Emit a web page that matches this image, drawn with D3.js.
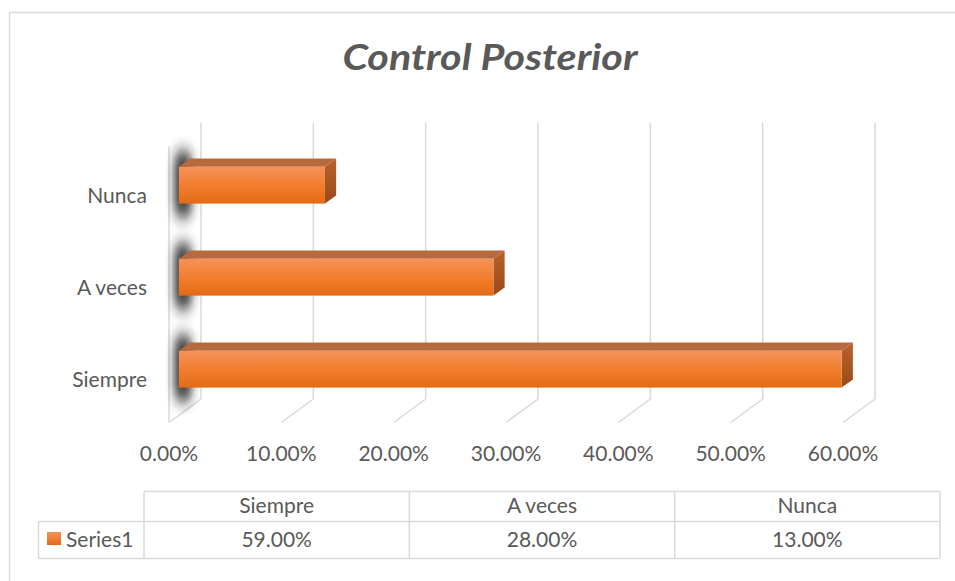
<!DOCTYPE html>
<html>
<head>
<meta charset="utf-8">
<script src="https://cdn.jsdelivr.net/npm/d3@7/dist/d3.min.js"></script>
<style>
  html, body { margin: 0; padding: 0; background: #fff; }
  svg { display: block; font-family: Lato, "Open Sans", sans-serif; }
</style>
</head>
<body>
<svg id="chart" width="955" height="581"></svg>
<script>
const title = "Control Posterior";
const seriesName = "Series1";
const categories = ["Siempre", "A veces", "Nunca"];
const values = [0.59, 0.28, 0.13];
const tickValues = [0, 0.1, 0.2, 0.3, 0.4, 0.5, 0.6];

const svg = d3.select("#chart");
const textColor = "#595959";
const gridColor = "#d9d9d9";

// defs
const defs = svg.append("defs");
const gFront = defs.append("linearGradient").attr("id", "front").attr("x1", 0).attr("y1", 0).attr("x2", 0).attr("y2", 1);
gFront.append("stop").attr("offset", "0%").attr("stop-color", "#f5925a");
gFront.append("stop").attr("offset", "55%").attr("stop-color", "#f27c2a");
gFront.append("stop").attr("offset", "100%").attr("stop-color", "#e36b17");
const gSide = defs.append("linearGradient").attr("id", "side").attr("x1", 0).attr("y1", 0).attr("x2", 0).attr("y2", 1);
gSide.append("stop").attr("offset", "0%").attr("stop-color", "#b9622c");
gSide.append("stop").attr("offset", "100%").attr("stop-color", "#9a4a17");
const blur = defs.append("filter").attr("id", "blur").attr("x", "-100%").attr("y", "-50%").attr("width", "300%").attr("height", "200%");
blur.append("feGaussianBlur").attr("stdDeviation", "4.5 8");
const gLeg = defs.append("linearGradient").attr("id", "leg").attr("x1", 0).attr("y1", 0).attr("x2", 0).attr("y2", 1);
gLeg.append("stop").attr("offset", "0%").attr("stop-color", "#f5925a");
gLeg.append("stop").attr("offset", "100%").attr("stop-color", "#e36b17");

// outer chart border
svg.append("rect").attr("x", 9.5).attr("y", 12.5).attr("width", 960).attr("height", 600)
  .attr("fill", "none").attr("stroke", gridColor).attr("stroke-width", 1.5);

// title
svg.append("text").attr("x", 490).attr("y", 70).attr("text-anchor", "middle")
  .attr("font-size", 36).attr("font-weight", "bold").attr("font-style", "italic")
  .attr("textLength", 295).attr("lengthAdjust", "spacingAndGlyphs")
  .attr("fill", textColor).text(title);

// 3D geometry
const depthX = -32, depthY = 23.5;          // back plane -> front plane
const backTop = 123, backBottom = 399;
const xBack = d3.scaleLinear().domain([0, 0.6]).range([201, 875]);
const xFront = v => xBack(v) + depthX;
const barDepth = 0.69;                       // position of bar front face within depth
const barThick = 0.35;
const xBar = v => xBack(v) + depthX * barDepth;
const yBand = d3.scaleBand().domain(categories.slice().reverse())
  .range([backTop + depthY, backBottom + depthY]).paddingInner(0.6).paddingOuter(0.3);
const yBarShift = -(1 - barDepth) * depthY;

// left wall
const wall = svg.append("g").attr("fill", "none").attr("stroke", gridColor).attr("stroke-width", 1.5);
wall.append("line").attr("x1", xFront(0)).attr("x2", xFront(0)).attr("y1", backTop + depthY).attr("y2", backBottom + depthY);

// gridlines back + floor diagonals
const grid = svg.append("g").attr("stroke", gridColor).attr("stroke-width", 1.5).attr("fill", "none");
grid.selectAll("line.v").data(tickValues).join("line").attr("class", "v")
  .attr("x1", d => xBack(d)).attr("x2", d => xBack(d)).attr("y1", backTop).attr("y2", backBottom);
grid.selectAll("line.d").data(tickValues).join("line").attr("class", "d")
  .attr("x1", d => xBack(d)).attr("x2", d => xFront(d)).attr("y1", backBottom).attr("y2", backBottom + depthY);

// shadows on wall
svg.append("g").selectAll("rect").data(categories).join("rect")
  .attr("x", xFront(0) + 5).attr("width", 18)
  .attr("y", d => yBand(d) + yBarShift - 16).attr("height", yBand.bandwidth() + 30)
  .attr("rx", 9)
  .attr("fill", "#1e1e1e").attr("opacity", 0.85).attr("filter", "url(#blur)");

// bars
const ox = -depthX * barThick, oy = -depthY * barThick;
const bars = svg.append("g").selectAll("g").data(categories).join("g");
bars.each(function(c, i) {
  const g = d3.select(this);
  const x0 = xBar(0), x1 = xBar(values[i]);
  const y0 = yBand(c) + yBarShift, y1 = y0 + yBand.bandwidth();
  g.append("path").attr("d", `M${x0},${y0}L${x0 + ox},${y0 + oy}L${x1 + ox},${y0 + oy}L${x1},${y0}Z`).attr("fill", "#b86a3f");
  g.append("path").attr("d", `M${x1},${y0}L${x1 + ox},${y0 + oy}L${x1 + ox},${y1 + oy}L${x1},${y1}Z`).attr("fill", "url(#side)");
  g.append("rect").attr("x", x0).attr("y", y0).attr("width", x1 - x0).attr("height", y1 - y0).attr("fill", "url(#front)");
});

// category labels
svg.append("g").selectAll("text").data(categories).join("text")
  .attr("x", 147).attr("y", d => yBand(d) + yBand.bandwidth() / 2 + 10)
  .attr("text-anchor", "end").attr("font-size", 21).attr("fill", textColor).text(d => d);

// tick labels
const fmt = d3.format(".2%");
svg.append("g").selectAll("text").data(tickValues).join("text")
  .attr("x", d => xFront(d)).attr("y", 461).attr("text-anchor", "middle")
  .attr("font-size", 21).attr("fill", textColor).text(d => fmt(d));

// data table
const colX = d3.scaleBand().domain(categories).range([144, 940]);
const tTop = 491.5, tMid = 521.5, tBot = 558.5, legLeft = 38.5;
const tbl = svg.append("g").attr("stroke", gridColor).attr("stroke-width", 1.5).attr("fill", "none");
tbl.append("line").attr("x1", 144).attr("x2", 940).attr("y1", tTop).attr("y2", tTop);
tbl.append("line").attr("x1", legLeft).attr("x2", 940).attr("y1", tMid).attr("y2", tMid);
tbl.append("line").attr("x1", legLeft).attr("x2", 940).attr("y1", tBot).attr("y2", tBot);
tbl.append("line").attr("x1", legLeft).attr("x2", legLeft).attr("y1", tMid).attr("y2", tBot);
tbl.selectAll("line.c").data([...categories.map(c => colX(c)), 940]).join("line").attr("class", "c")
  .attr("x1", d => d).attr("x2", d => d).attr("y1", tTop).attr("y2", tBot);

svg.append("g").selectAll("text").data(categories).join("text")
  .attr("x", d => colX(d) + colX.bandwidth() / 2).attr("y", 513).attr("text-anchor", "middle")
  .attr("font-size", 21).attr("fill", textColor).text(d => d);
svg.append("g").selectAll("text").data(values).join("text")
  .attr("x", (d, i) => colX(categories[i]) + colX.bandwidth() / 2).attr("y", 547).attr("text-anchor", "middle")
  .attr("font-size", 21).attr("fill", textColor).text(d => fmt(d));

// legend key
svg.append("rect").attr("x", 47).attr("y", 532).attr("width", 14).attr("height", 13).attr("fill", "url(#leg)");
svg.append("text").attr("x", 66).attr("y", 547).attr("font-size", 21).attr("fill", textColor).text(seriesName);
</script>
</body>
</html>
